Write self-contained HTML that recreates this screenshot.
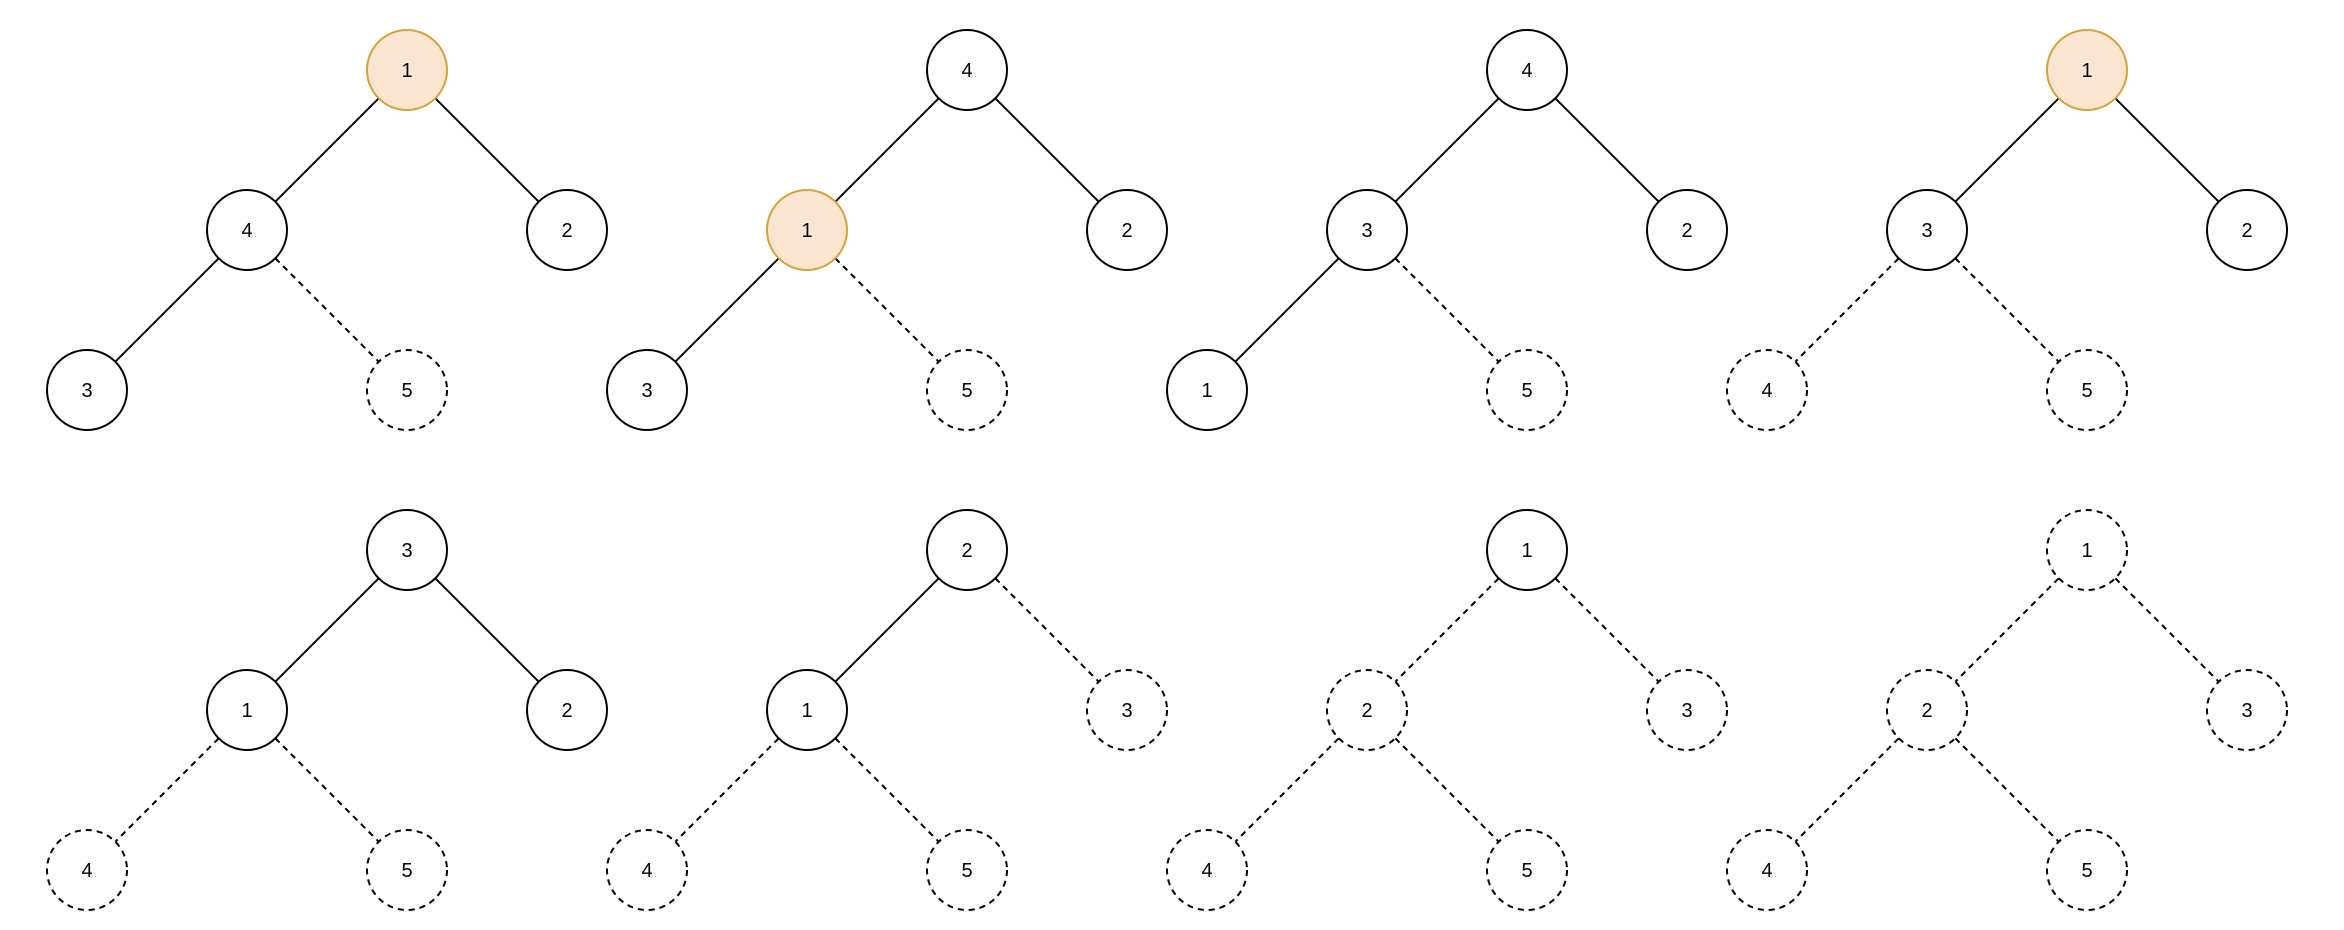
<!DOCTYPE html>
<html><head><meta charset="utf-8"><style>
html,body{margin:0;padding:0;background:#fff;}
svg{display:block;}
text{font-family:"Liberation Sans",Arial,sans-serif;font-size:20px;fill:#000;text-anchor:middle;}
.s{fill:#fff;stroke:#000;stroke-width:2;}
.d{fill:#fff;stroke:#000;stroke-width:2;stroke-dasharray:6 5;}
.o{fill:#fae6d0;stroke:#d6a03a;stroke-width:2;}
.es{stroke:#000;stroke-width:2;fill:none;}
.ed{stroke:#000;stroke-width:2;fill:none;stroke-dasharray:6 5;}
</style></head><body>
<svg width="2344" height="930" viewBox="0 0 2344 930" xmlns="http://www.w3.org/2000/svg">
<defs></defs>

<!-- T1 -->
<g transform="translate(407,70)">
<line class="es" x1="-28.3" y1="28.3" x2="-131.7" y2="131.7"/>
<line class="es" x1="28.3" y1="28.3" x2="131.7" y2="131.7"/>
<line class="es" x1="-188.3" y1="188.3" x2="-291.7" y2="291.7"/>
<line class="ed" x1="-131.7" y1="188.3" x2="-28.3" y2="291.7"/>
<circle class="o" cx="0" cy="0" r="40"/><text x="0" y="7">1</text>
<circle class="s" cx="-160" cy="160" r="40"/><text x="-160" y="167">4</text>
<circle class="s" cx="160" cy="160" r="40"/><text x="160" y="167">2</text>
<circle class="s" cx="-320" cy="320" r="40"/><text x="-320" y="327">3</text>
<circle class="d" cx="0" cy="320" r="40"/><text x="0" y="327">5</text>
</g>

<!-- T2 -->
<g transform="translate(967,70)">
<line class="es" x1="-28.3" y1="28.3" x2="-131.7" y2="131.7"/>
<line class="es" x1="28.3" y1="28.3" x2="131.7" y2="131.7"/>
<line class="es" x1="-188.3" y1="188.3" x2="-291.7" y2="291.7"/>
<line class="ed" x1="-131.7" y1="188.3" x2="-28.3" y2="291.7"/>
<circle class="s" cx="0" cy="0" r="40"/><text x="0" y="7">4</text>
<circle class="o" cx="-160" cy="160" r="40"/><text x="-160" y="167">1</text>
<circle class="s" cx="160" cy="160" r="40"/><text x="160" y="167">2</text>
<circle class="s" cx="-320" cy="320" r="40"/><text x="-320" y="327">3</text>
<circle class="d" cx="0" cy="320" r="40"/><text x="0" y="327">5</text>
</g>

<!-- T3 -->
<g transform="translate(1527,70)">
<line class="es" x1="-28.3" y1="28.3" x2="-131.7" y2="131.7"/>
<line class="es" x1="28.3" y1="28.3" x2="131.7" y2="131.7"/>
<line class="es" x1="-188.3" y1="188.3" x2="-291.7" y2="291.7"/>
<line class="ed" x1="-131.7" y1="188.3" x2="-28.3" y2="291.7"/>
<circle class="s" cx="0" cy="0" r="40"/><text x="0" y="7">4</text>
<circle class="s" cx="-160" cy="160" r="40"/><text x="-160" y="167">3</text>
<circle class="s" cx="160" cy="160" r="40"/><text x="160" y="167">2</text>
<circle class="s" cx="-320" cy="320" r="40"/><text x="-320" y="327">1</text>
<circle class="d" cx="0" cy="320" r="40"/><text x="0" y="327">5</text>
</g>

<!-- T4 -->
<g transform="translate(2087,70)">
<line class="es" x1="-28.3" y1="28.3" x2="-131.7" y2="131.7"/>
<line class="es" x1="28.3" y1="28.3" x2="131.7" y2="131.7"/>
<line class="ed" x1="-188.3" y1="188.3" x2="-291.7" y2="291.7"/>
<line class="ed" x1="-131.7" y1="188.3" x2="-28.3" y2="291.7"/>
<circle class="o" cx="0" cy="0" r="40"/><text x="0" y="7">1</text>
<circle class="s" cx="-160" cy="160" r="40"/><text x="-160" y="167">3</text>
<circle class="s" cx="160" cy="160" r="40"/><text x="160" y="167">2</text>
<circle class="d" cx="-320" cy="320" r="40"/><text x="-320" y="327">4</text>
<circle class="d" cx="0" cy="320" r="40"/><text x="0" y="327">5</text>
</g>

<!-- T5 -->
<g transform="translate(407,550)">
<line class="es" x1="-28.3" y1="28.3" x2="-131.7" y2="131.7"/>
<line class="es" x1="28.3" y1="28.3" x2="131.7" y2="131.7"/>
<line class="ed" x1="-188.3" y1="188.3" x2="-291.7" y2="291.7"/>
<line class="ed" x1="-131.7" y1="188.3" x2="-28.3" y2="291.7"/>
<circle class="s" cx="0" cy="0" r="40"/><text x="0" y="7">3</text>
<circle class="s" cx="-160" cy="160" r="40"/><text x="-160" y="167">1</text>
<circle class="s" cx="160" cy="160" r="40"/><text x="160" y="167">2</text>
<circle class="d" cx="-320" cy="320" r="40"/><text x="-320" y="327">4</text>
<circle class="d" cx="0" cy="320" r="40"/><text x="0" y="327">5</text>
</g>

<!-- T6 -->
<g transform="translate(967,550)">
<line class="es" x1="-28.3" y1="28.3" x2="-131.7" y2="131.7"/>
<line class="ed" x1="28.3" y1="28.3" x2="131.7" y2="131.7"/>
<line class="ed" x1="-188.3" y1="188.3" x2="-291.7" y2="291.7"/>
<line class="ed" x1="-131.7" y1="188.3" x2="-28.3" y2="291.7"/>
<circle class="s" cx="0" cy="0" r="40"/><text x="0" y="7">2</text>
<circle class="s" cx="-160" cy="160" r="40"/><text x="-160" y="167">1</text>
<circle class="d" cx="160" cy="160" r="40"/><text x="160" y="167">3</text>
<circle class="d" cx="-320" cy="320" r="40"/><text x="-320" y="327">4</text>
<circle class="d" cx="0" cy="320" r="40"/><text x="0" y="327">5</text>
</g>

<!-- T7 -->
<g transform="translate(1527,550)">
<line class="ed" x1="-28.3" y1="28.3" x2="-131.7" y2="131.7"/>
<line class="ed" x1="28.3" y1="28.3" x2="131.7" y2="131.7"/>
<line class="ed" x1="-188.3" y1="188.3" x2="-291.7" y2="291.7"/>
<line class="ed" x1="-131.7" y1="188.3" x2="-28.3" y2="291.7"/>
<circle class="s" cx="0" cy="0" r="40"/><text x="0" y="7">1</text>
<circle class="d" cx="-160" cy="160" r="40"/><text x="-160" y="167">2</text>
<circle class="d" cx="160" cy="160" r="40"/><text x="160" y="167">3</text>
<circle class="d" cx="-320" cy="320" r="40"/><text x="-320" y="327">4</text>
<circle class="d" cx="0" cy="320" r="40"/><text x="0" y="327">5</text>
</g>

<!-- T8 -->
<g transform="translate(2087,550)">
<line class="ed" x1="-28.3" y1="28.3" x2="-131.7" y2="131.7"/>
<line class="ed" x1="28.3" y1="28.3" x2="131.7" y2="131.7"/>
<line class="ed" x1="-188.3" y1="188.3" x2="-291.7" y2="291.7"/>
<line class="ed" x1="-131.7" y1="188.3" x2="-28.3" y2="291.7"/>
<circle class="d" cx="0" cy="0" r="40"/><text x="0" y="7">1</text>
<circle class="d" cx="-160" cy="160" r="40"/><text x="-160" y="167">2</text>
<circle class="d" cx="160" cy="160" r="40"/><text x="160" y="167">3</text>
<circle class="d" cx="-320" cy="320" r="40"/><text x="-320" y="327">4</text>
<circle class="d" cx="0" cy="320" r="40"/><text x="0" y="327">5</text>
</g>
</svg>
</body></html>
